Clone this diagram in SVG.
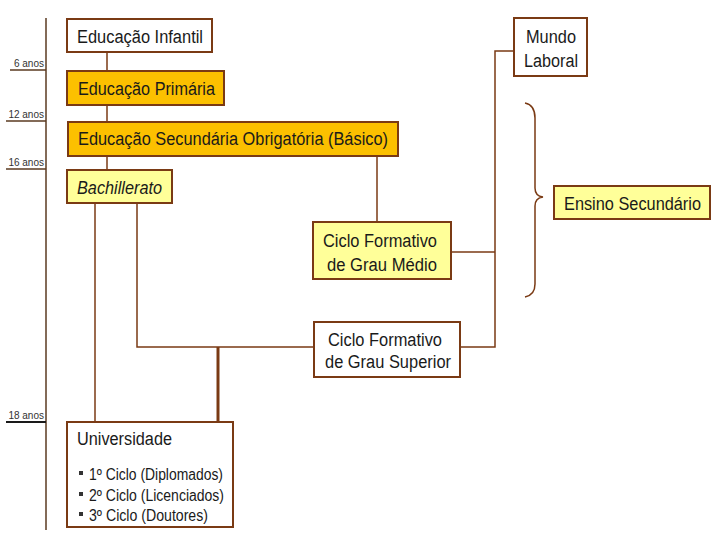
<svg xmlns="http://www.w3.org/2000/svg" width="720" height="540" viewBox="0 0 720 540">
<style>
.box{stroke:#7a3a14;stroke-width:2}
.w{fill:#ffffff}
.o{fill:#fcc000}
.y{fill:#ffff99}
.t{font-family:"Liberation Sans",Arial,sans-serif;font-size:18px;fill:#1a1a1a}
.s{font-family:"Liberation Sans",Arial,sans-serif;font-size:16px;fill:#1a1a1a}
.a{font-family:"Liberation Sans",Arial,sans-serif;font-size:10px;fill:#333;text-anchor:end}
.c{stroke:#7a3a14;stroke-width:1.5;fill:none}
</style>
<rect width="720" height="540" fill="#ffffff"/>
<g id="timeline">
<line x1="46" y1="18" x2="46" y2="530" stroke="#5a3a20" stroke-width="1.5"/>
<line x1="10" y1="70" x2="46" y2="70" stroke="#5a3a20" stroke-width="1.5"/>
<text class="a" x="44" y="67">6 anos</text>
<line x1="6" y1="121" x2="46" y2="121" stroke="#5a3a20" stroke-width="1.5"/>
<text class="a" x="44" y="118">12 anos</text>
<line x1="6" y1="169" x2="46" y2="169" stroke="#5a3a20" stroke-width="1.5"/>
<text class="a" x="44" y="166">16 anos</text>
<line x1="6" y1="422" x2="46" y2="422" stroke="#1a1a1a" stroke-width="2"/>
<text class="a" x="44" y="419">18 anos</text>
</g>
<g id="connectors">
<path class="c" d="M107 52 V170"/>
<path class="c" d="M377 156 V222"/>
<path class="c" d="M95 203 V422"/>
<path class="c" d="M137 203 V347 H314"/>
<path class="c" d="M460 347 H495 V51 H514"/>
<path class="c" d="M451 252 H495"/>
<path d="M218 347 V422" stroke="#7a3a14" stroke-width="3" fill="none"/>
<path class="c" d="M525 103 Q535 105 535 118 V188 Q535 196 543 197 Q535 198 535 206 V284 Q535 295 525 297"/>
</g>
<g id="infantil">
<rect class="box w" x="67" y="19" width="145" height="33"/>
<text class="t" x="77" y="43" textLength="126" lengthAdjust="spacingAndGlyphs">Educação Infantil</text>
</g>
<g id="primaria">
<rect class="box o" x="67" y="71" width="157" height="34"/>
<text class="t" x="78" y="95" textLength="137" lengthAdjust="spacingAndGlyphs">Educação Primária</text>
</g>
<g id="secundaria">
<rect class="box o" x="68" y="122" width="330" height="34"/>
<text class="t" x="78" y="145" textLength="310" lengthAdjust="spacingAndGlyphs">Educação Secundária Obrigatória (Básico)</text>
</g>
<g id="bachillerato">
<rect class="box y" x="67" y="170" width="105" height="33"/>
<text class="t" x="77" y="194" font-style="italic" textLength="85" lengthAdjust="spacingAndGlyphs">Bachillerato</text>
</g>
<g id="mundo">
<rect class="box w" x="514" y="18" width="73" height="58"/>
<text class="t" x="526" y="43" textLength="50" lengthAdjust="spacingAndGlyphs">Mundo</text>
<text class="t" x="524" y="67" textLength="54" lengthAdjust="spacingAndGlyphs">Laboral</text>
</g>
<g id="ensino">
<rect class="box y" x="554" y="186" width="156" height="33"/>
<text class="t" x="564" y="210" textLength="137" lengthAdjust="spacingAndGlyphs">Ensino Secundário</text>
</g>
<g id="medio">
<rect class="box y" x="313" y="222" width="138" height="57"/>
<text class="t" x="323" y="247" textLength="114" lengthAdjust="spacingAndGlyphs">Ciclo Formativo</text>
<text class="t" x="327" y="271" textLength="110" lengthAdjust="spacingAndGlyphs">de Grau Médio</text>
</g>
<g id="superior">
<rect class="box w" x="314" y="322" width="146" height="55"/>
<text class="t" x="328" y="346" textLength="114" lengthAdjust="spacingAndGlyphs">Ciclo Formativo</text>
<text class="t" x="325" y="368" textLength="126" lengthAdjust="spacingAndGlyphs">de Grau Superior</text>
</g>
<g id="universidade">
<rect class="box w" x="67" y="422" width="166" height="105"/>
<text class="t" x="77" y="445" textLength="95" lengthAdjust="spacingAndGlyphs">Universidade</text>
<rect x="79" y="471" width="4" height="4" fill="#333"/>
<text class="s" x="89" y="480" textLength="134" lengthAdjust="spacingAndGlyphs">1º Ciclo (Diplomados)</text>
<rect x="79" y="492" width="4" height="4" fill="#333"/>
<text class="s" x="89" y="501" textLength="135" lengthAdjust="spacingAndGlyphs">2º Ciclo (Licenciados)</text>
<rect x="79" y="512" width="4" height="4" fill="#333"/>
<text class="s" x="89" y="521" textLength="119" lengthAdjust="spacingAndGlyphs">3º Ciclo (Doutores)</text>
</g>
</svg>
